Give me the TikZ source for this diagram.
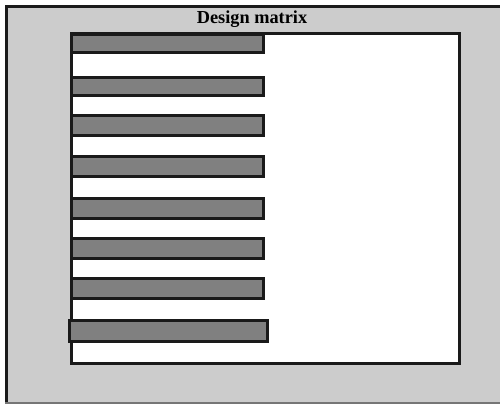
\documentclass[tikz,border=0pt]{standalone}
\usepackage{fontspec}
\setmainfont{Liberation Serif}
\definecolor{edge}{HTML}{1A1A1A}
\definecolor{panel}{HTML}{CCCCCC}
\definecolor{barfill}{HTML}{808080}
\begin{document}
\begin{tikzpicture}[x=1pt,y=-1pt,
  frameline/.style={draw=edge,line width=3pt},
  matrixbox/.style={draw=edge,line width=3pt,fill=white},
  rowbar/.style={draw=edge,line width=3pt,fill=barfill},
  titletext/.style={font=\fontsize{18.3}{18}\selectfont\bfseries,inner sep=0pt}]
\useasboundingbox (0,0) rectangle (500,404);
\fill[panel] (5,5) rectangle (500,404);
\draw[frameline] (500,6.5) -- (6.5,6.5) -- (6.5,404);
\draw[edge!60,line width=1.5pt] (5,403.2) -- (500,403.2);
\node[titletext] (title) at (252,19) {Design matrix};
\path[matrixbox] (71.5,33.5) rectangle (459.5,363.5);
\path[rowbar] (71.5,34.5) rectangle (263.5,53);
\path[rowbar] (71.5,77) rectangle (263.5,95);
\path[rowbar] (71.5,115) rectangle (263.5,135);
\path[rowbar] (71.5,156) rectangle (263.5,176);
\path[rowbar] (71.5,198) rectangle (263.5,218);
\path[rowbar] (71.5,238) rectangle (263.5,258);
\path[rowbar] (71.5,278) rectangle (263.5,298);
\path[rowbar] (69.5,320) rectangle (267.5,341);
\end{tikzpicture}
\end{document}
